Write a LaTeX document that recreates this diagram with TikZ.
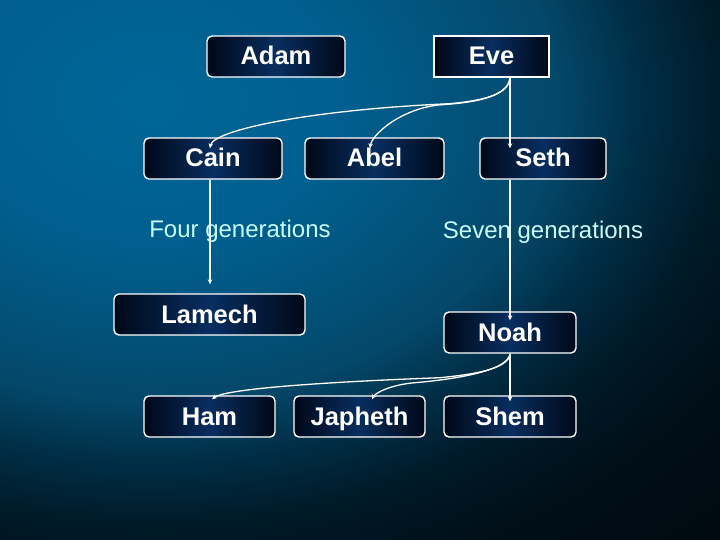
\documentclass[tikz,border=0pt]{standalone}
\usepackage{fontspec}
\setmainfont{Liberation Sans}
\usetikzlibrary{arrows.meta,calc}
\definecolor{bgA}{RGB}{0,102,152}
\definecolor{bgB}{RGB}{0,95,143}
\definecolor{bgC}{RGB}{4,72,106}
\definecolor{bgD}{RGB}{0,46,70}
\definecolor{bgE}{RGB}{0,26,40}
\definecolor{bgF}{RGB}{0,15,24}
\definecolor{bgG}{RGB}{0,9,14}
\definecolor{boxmid}{RGB}{8,46,96}
\definecolor{boxedge}{RGB}{0,8,24}
\definecolor{gentext}{RGB}{200,255,255}
\pgfdeclareradialshading{bgshade}{\pgfpoint{0bp}{0bp}}{%
  color(0bp)=(bgA); color(5.75bp)=(bgB); color(12bp)=(bgC);
  color(14.5bp)=(bgD); color(17bp)=(bgE); color(20bp)=(bgF);
  color(25bp)=(bgG); color(50bp)=(bgG)}
\tikzset{
  famboxbase/.style={draw=white, line width=1.4pt, minimum height=41pt,
    inner sep=0pt, text height=20pt, text depth=3pt,
    left color=boxedge, right color=boxedge, middle color=boxmid,
    text=white, font=\fontsize{25.5}{29}\selectfont\bfseries},
  fambox/.style={famboxbase, rounded corners=5pt},
  sharpbox/.style={famboxbase},
  gen/.style={text=gentext, font=\fontsize{24}{28}\selectfont, inner sep=0pt, anchor=base},
  link/.style={draw=white, line width=1.3pt, -{Stealth[length=5pt,width=4.5pt]}}
}
\begin{document}
\begin{tikzpicture}[x=1pt,y=-1pt]
\useasboundingbox (0,0) rectangle (720,540);
\begin{scope}
  \clip (0,0) rectangle (720,540);
  \shade[shading=bgshade] (150,100) ellipse [x radius=845, y radius=624];
\end{scope}

\node[fambox, minimum width=138pt] (adam) at (276,56.5) {Adam};
\node[sharpbox, minimum width=115pt] (eve) at (491.5,56.5) {Eve};
\node[fambox, minimum width=138pt] (cain) at (213,158.5) {Cain};
\node[fambox, minimum width=139pt] (abel) at (374.5,158.5) {Abel};
\node[fambox, minimum width=126pt] (seth) at (543,158.5) {Seth};
\node[fambox, minimum width=191pt] (lamech) at (209.5,314.5) {Lamech};
\node[fambox, minimum width=132pt] (noah) at (510,332.5) {Noah};
\node[fambox, minimum width=131pt] (ham) at (209.5,416.5) {Ham};
\node[fambox, minimum width=131pt] (japheth) at (359.5,416.5) {Japheth};
\node[fambox, minimum width=132pt] (shem) at (510,416.5) {Shem};

\node[gen] (four) at (240,237) {Four generations};
\node[gen] (seven) at (543,238) {Seven generations};

% connectors from Eve
\coordinate (evefoot) at ([xshift=18.5pt]eve.south);
\coordinate (cainin) at ([xshift=-3pt,yshift=-11pt]cain.north);
\coordinate (abelin) at ([xshift=-4.5pt,yshift=-11pt]abel.north);
\coordinate (sethin) at (evefoot |- cainin);
\draw[link] (evefoot) .. controls +(-1,18) and +(30,-3) .. ++(-60,26)
  .. controls +(-140,6) and +(3,-18) .. (cainin);
\draw[link] (evefoot) .. controls +(-2,20) and +(30,-2) .. ++(-68,27)
  .. controls +(-40,3) and +(2,-14) .. (abelin);
\draw[link] (evefoot) -- (sethin);

% long descents
\coordinate (cainfoot) at (cain.south -| 210,0);
\coordinate (lamechin) at ([yshift=9pt]cainfoot |- lamech.north);
\draw[link] (cainfoot) -- (lamechin);
\coordinate (sethfoot) at (seth.south -| noah.north);
\coordinate (noahin) at ([yshift=-9pt]noah.north);
\draw[link] (sethfoot) -- (noahin);

% connectors from Noah
\coordinate (hamin) at ([xshift=2.5pt,yshift=-4pt]ham.north);
\coordinate (japhin) at ([xshift=12.5pt,yshift=-4pt]japheth.north);
\coordinate (shemin) at ([yshift=-6pt]shem.north);
\draw[link] (noah.south) .. controls +(-1,16) and +(30,-3) .. ++(-70,24)
  .. controls +(-160,6) and +(10,-8) .. (hamin);
\draw[link] (noah.south) .. controls +(-2,18) and +(35,-3) .. ++(-95,29)
  .. controls +(-25,2) and +(3,-6) .. (japhin);
\draw[link] (noah.south) -- (shemin);
\end{tikzpicture}
\end{document}
